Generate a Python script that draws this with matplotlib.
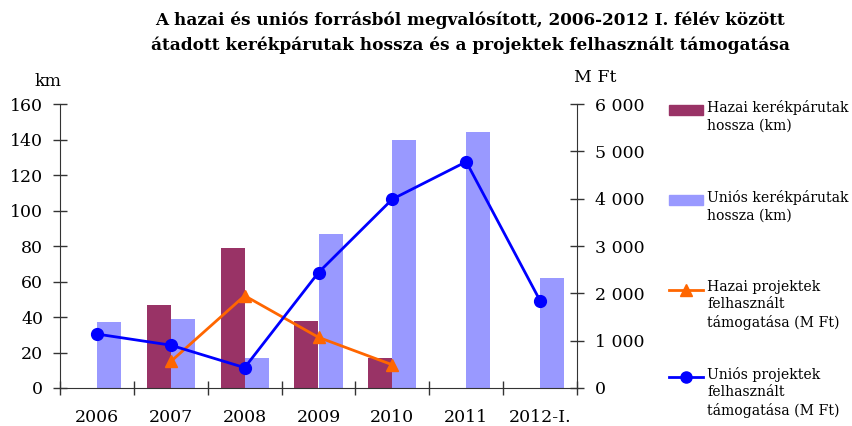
import matplotlib
matplotlib.use("Agg")
import matplotlib.pyplot as plt
import numpy as np
from matplotlib.patches import Rectangle
from matplotlib.lines import Line2D
from matplotlib.ticker import FuncFormatter

categories = ["2006", "2007", "2008", "2009", "2010", "2011", "2012-I."]
hazai_km = [0, 47, 79, 38, 17, 0, 0]
unios_km = [37, 39, 17, 87, 140, 144, 62]
hazai_mft = [np.nan, 560, 1950, 1070, 490, np.nan, np.nan]
unios_mft = [1140, 905, 430, 2440, 3990, 4780, 1845]
left_ticks = [0, 20, 40, 60, 80, 100, 120, 140, 160]
right_ticks = [0, 1000, 2000, 3000, 4000, 5000, 6000]

c_haz_bar = "#993366"
c_uni_bar = "#9999FF"
c_haz_line = "#FF6600"
c_uni_line = "#0000FF"

plt.rcParams["font.family"] = ["DejaVu Serif"]
FS = 12.5

fig = plt.figure(figsize=(8.52, 4.26), dpi=100)
W, H = 852, 426
ax = fig.add_axes([60 / W, 1 - 388 / H, (577 - 60) / W, (388 - 104) / H])
ax2 = ax.twinx()

x = np.arange(len(categories))
bw = 0.325
ax.bar(x - bw / 2, hazai_km, bw, color=c_haz_bar, zorder=2)
ax.bar(x + bw / 2, unios_km, bw, color=c_uni_bar, zorder=2)
ax.set_ylim(0, 160)
ax.set_xlim(-0.5, len(categories) - 0.5)
ax.set_yticks(left_ticks)
ax.set_xticks(x)
ax.set_xticklabels(categories)
ax.set_xticks(np.arange(-0.5, len(categories), 1.0), minor=True)
ax.tick_params(axis="x", which="major", length=0, pad=15, labelsize=FS)
ax.tick_params(axis="x", which="minor", length=10, direction="inout", width=1, color="#333333")
ax.tick_params(axis="y", length=10, direction="inout", width=1, labelsize=FS, pad=7, color="#333333")

ax2.plot(x, hazai_mft, color=c_haz_line, lw=2, marker="^", ms=9, zorder=3)
ax2.plot(x, unios_mft, color=c_uni_line, lw=2, marker="o", ms=8.5, zorder=4)
ax2.set_ylim(0, 6000)
ax2.set_yticks(right_ticks)
ax2.yaxis.set_major_formatter(FuncFormatter(lambda v, p: f"{int(v):,}".replace(",", " ")))
ax2.tick_params(axis="y", length=10, direction="inout", width=1, labelsize=FS, pad=8, color="#333333")

for a in (ax, ax2):
    a.spines["top"].set_visible(False)
    for s in ("left", "right", "bottom"):
        a.spines[s].set_color("#333333")
ax.spines["right"].set_visible(False)
ax2.spines["left"].set_visible(False)
ax2.spines["bottom"].set_visible(False)

fig.text(48 / W, 1 - 81 / H, "km", ha="center", va="center", fontsize=FS)
fig.text(574 / W, 1 - 78 / H, "M Ft", ha="left", va="center", fontsize=FS)

fig.text(470 / W, 1 - 20 / H, "A hazai és uniós forrásból megvalósított, 2006-2012 I. félév között",
         ha="center", va="center", fontsize=12.2, fontweight="bold")
fig.text(470 / W, 1 - 45 / H, "átadott kerékpárutak hossza és a projektek felhasznált támogatása",
         ha="center", va="center", fontsize=12.2, fontweight="bold")

# legend
LFS = 10.1
lx0, lx1, tx = 669, 703, 707
entries = [
    ("bar", c_haz_bar, None, 110, "Hazai kerékpárutak\nhossza (km)"),
    ("bar", c_uni_bar, None, 200, "Uniós kerékpárutak\nhossza (km)"),
    ("line", c_haz_line, "^", 290, "Hazai projektek\nfelhasznált\ntámogatása (M Ft)"),
    ("line", c_uni_line, "o", 377, "Uniós projektek\nfelhasznált\ntámogatása (M Ft)"),
]
for kind, col, mk, yy, lab in entries:
    if kind == "bar":
        fig.add_artist(Rectangle((lx0 / W, 1 - (yy + 5) / H), (lx1 - lx0) / W, 10 / H,
                                 transform=fig.transFigure, color=col))
    else:
        fig.add_artist(Line2D([lx0 / W, lx1 / W], [1 - yy / H, 1 - yy / H], color=col, lw=2,
                              transform=fig.transFigure))
        fig.add_artist(Line2D([(lx0 + lx1) / 2 / W], [1 - yy / H], color=col, marker=mk, ms=8,
                              transform=fig.transFigure))
    fig.text(tx / W, 1 - (yy - 10) / H, lab, ha="left", va="top", fontsize=LFS, linespacing=1.3)

fig.savefig("out.png", dpi=100)
